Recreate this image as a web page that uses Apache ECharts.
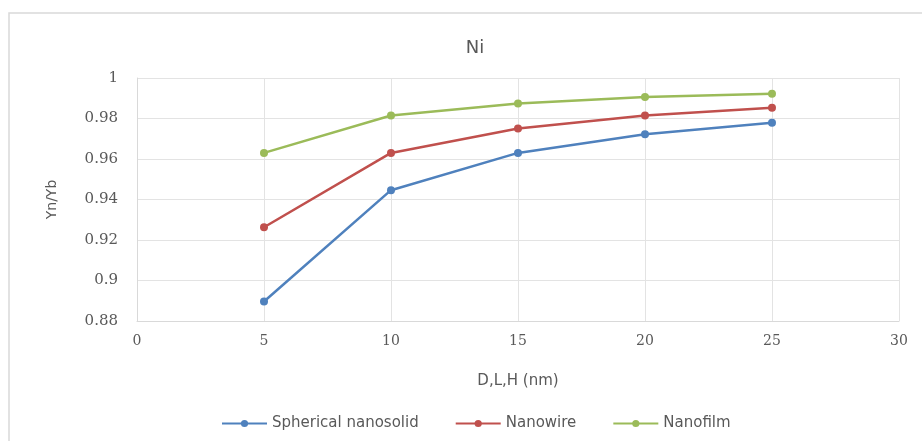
<!DOCTYPE html>
<html>
<head>
<meta charset="utf-8">
<script src="https://cdn.jsdelivr.net/npm/echarts@6/dist/echarts.min.js"></script>
<style>
  html, body { margin: 0; padding: 0; background: #fff; }
  #chart { width: 922px; height: 441px; }
</style>
</head>
<body>
<div id="chart"></div>
<script>
// Size D, L, H in nm
const sizes = [5, 10, 15, 20, 25];
const spherical = [0.8896, 0.9446, 0.9630, 0.9722, 0.9779];
const nanowire = [0.9263, 0.9630, 0.9751, 0.9815, 0.9853];
const nanofilm = [0.9630, 0.9815, 0.9874, 0.9906, 0.9922];
const seriesNames = ['Spherical nanosolid', 'Nanowire', 'Nanofilm'];
const colors = ['#4F81BD', '#C0504D', '#9BBB59'];

const pairs = vals => sizes.map((s, i) => [s, vals[i]]);
const allValues = [spherical, nanowire, nanofilm];

const chart = echarts.init(document.getElementById('chart'));
const sansFont = '"DejaVu Sans", "Liberation Sans", sans-serif';
const serifFont = '"DejaVu Serif", "Liberation Serif", serif';

chart.setOption({
  animation: false,
  backgroundColor: '#fff',
  title: {
    text: 'Ni',
    left: 470, top: 34, textAlign: 'center',
    textStyle: { fontFamily: sansFont, fontSize: 18, fontWeight: 'normal', color: '#595959' }
  },
  graphic: [{
    type: 'rect', shape: { x: 9, y: 13, width: 930, height: 450 },
    style: { fill: 'none', stroke: '#d9d9d9', lineWidth: 1.5 }, silent: true
  }],
  legend: {
    bottom: 5, left: 216,
    itemGap: 36, itemWidth: 45, itemHeight: 9,
    textStyle: { fontFamily: sansFont, fontSize: 15, color: '#595959' },
    data: seriesNames
  },
  grid: { left: 137, right: 23, top: 78, bottom: 120 },
  xAxis: {
    type: 'value', min: 0, max: 30, interval: 5,
    name: 'D,L,H (nm)', nameLocation: 'middle', nameGap: 53,
    nameTextStyle: { fontFamily: sansFont, fontSize: 15, color: '#595959' },
    axisLine: { show: true, lineStyle: { color: '#d9d9d9' } },
    axisTick: { show: false },
    axisLabel: { fontFamily: serifFont, fontSize: 14, color: '#595959', margin: 13 },
    splitLine: { show: true, lineStyle: { color: '#e3e3e3' } }
  },
  yAxis: {
    type: 'value', min: 0.88, max: 1, interval: 0.02,
    name: 'Yn/Yb', nameLocation: 'middle', nameGap: 78, nameRotate: 90,
    nameTextStyle: { fontFamily: sansFont, fontSize: 14, color: '#595959' },
    axisLine: { show: true, lineStyle: { color: '#d9d9d9' } },
    axisTick: { show: false },
    axisLabel: { fontFamily: serifFont, fontSize: 15, color: '#595959', margin: 19 },
    splitLine: { show: true, lineStyle: { color: '#e3e3e3' } }
  },
  series: allValues.map((vals, i) => ({
    name: seriesNames[i],
    type: 'line',
    data: pairs(vals),
    symbol: 'circle', symbolSize: 8,
    lineStyle: { width: 2.5, color: colors[i] },
    itemStyle: { color: colors[i] }
  }))
});
</script>
</body>
</html>
